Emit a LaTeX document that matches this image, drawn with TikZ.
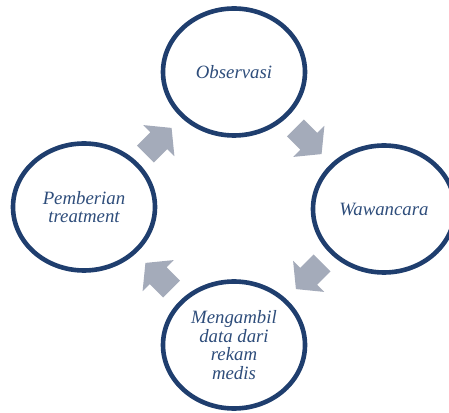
\documentclass[tikz,border=0pt]{standalone}
\usepackage{fontspec}
\setmainfont{Liberation Serif}
\usetikzlibrary{shapes.geometric}
\definecolor{ringblue}{HTML}{1F3E6E}
\definecolor{textblue}{HTML}{2E4D7B}
\definecolor{arrowgrey}{HTML}{A4ABBA}
\tikzset{
  stage/.style={ellipse, draw=ringblue, line width=4.6pt, fill=white,
    minimum width=142pt, minimum height=127pt, inner sep=0pt,
    text=textblue, align=center,
    font=\itshape\fontsize{18.8}{18.6}\selectfont},
  cyclearrow/.pic={
    \fill[arrowgrey] (-18.5,-12) -- (0.5,-12) -- (0.5,-22) -- (18.5,0)
      -- (0.5,22) -- (0.5,12) -- (-18.5,12) -- cycle;
  }
}
\begin{document}
\begin{tikzpicture}[x=1pt,y=1pt]
\useasboundingbox (0,0) rectangle (449,412);
\clip (0,0) rectangle (449,412);
\node[stage] (obs) at (234,340) {Observasi};
\node[stage] (waw) at (384,203) {Wawancara};
\node[stage] (rek) at (234,67) {Mengambil\\data dari\\rekam\\medis};
\node[stage] (pem) at (84,205) {Pemberian\\treatment};
\coordinate (a1) at (308.5,271);
\coordinate (a2) at (309,136);
\coordinate (a3) at (158.5,136);
\coordinate (a4) at (158.5,271);
\pic[rotate=-45] at (a1) {cyclearrow};
\pic[rotate=-135] at (a2) {cyclearrow};
\pic[rotate=135] at (a3) {cyclearrow};
\pic[rotate=45] at (a4) {cyclearrow};
\end{tikzpicture}
\end{document}
